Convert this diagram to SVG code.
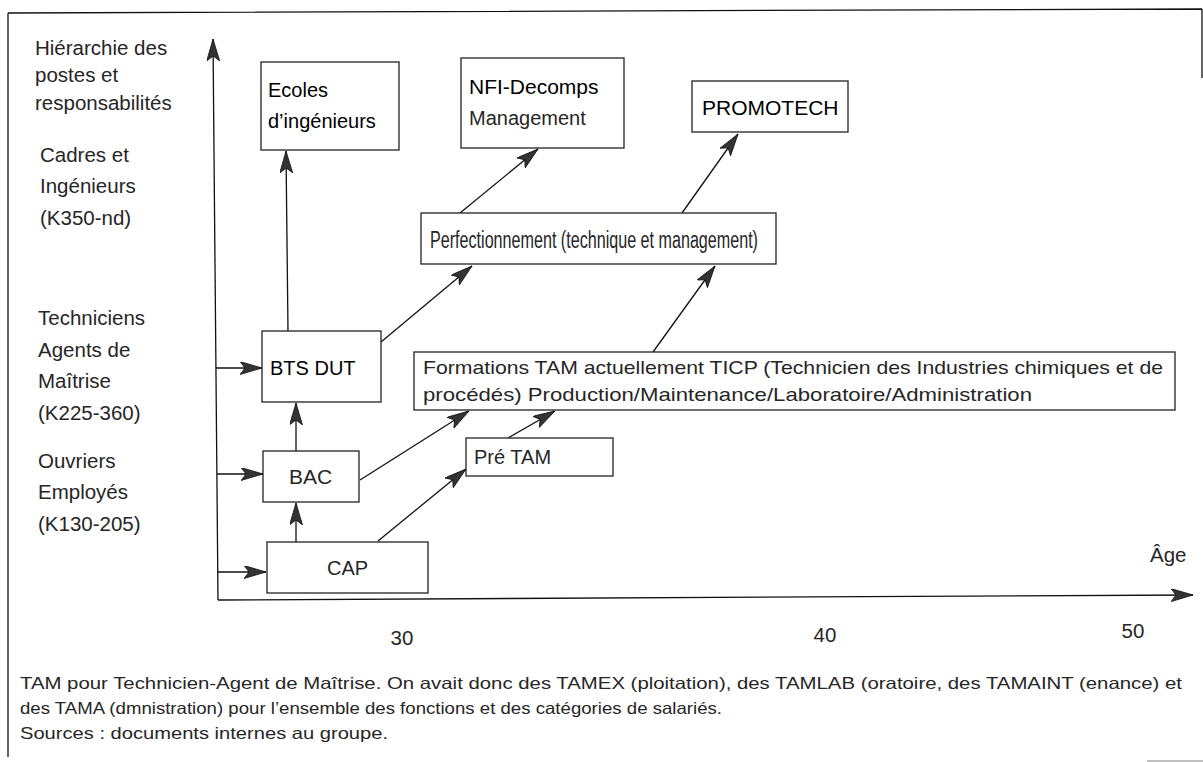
<svg xmlns="http://www.w3.org/2000/svg" width="1203" height="762" viewBox="0 0 1203 762">
<style>
text{font-family:"Liberation Sans",Arial,sans-serif;fill:#262626}
.lab{font-size:20.5px}
.bx{fill:#fff;stroke:#222;stroke-width:1.3}
.ln{stroke:#111;stroke-width:1.3;fill:none}
.ar{stroke:#111;stroke-width:1.3;fill:none;marker-end:url(#ah)}
.dk{fill:#000}
.fn{font-size:16.5px}
</style>
<defs>
<marker id="ah" markerUnits="userSpaceOnUse" markerWidth="24" markerHeight="14" refX="22" refY="6.5" orient="auto">
<path d="M0,0 L22,6.5 L0,13 L5,6.5 z" fill="#333" stroke="#111" stroke-width="0.8"/>
</marker>
</defs>
<g id="frame">
<path class="ln" d="M8,13 L1202,9 M8,13 L8,757 M1202,9 L1202,78"/>
<path d="M1147,761 L1203,761" stroke="#aaa" stroke-width="1.5"/>
</g>
<g id="axes">
<line class="ar" x1="218" y1="600" x2="213" y2="39"/>
<line class="ar" x1="218" y1="600" x2="1193" y2="595"/>
<text class="lab" x="1150" y="562">Âge</text>
<text class="lab" x="402" y="645" text-anchor="middle">30</text>
<text class="lab" x="825" y="642" text-anchor="middle">40</text>
<text class="lab" x="1133" y="638" text-anchor="middle">50</text>
</g>
<g id="labels-y">
<text class="lab" x="35" y="55">Hiérarchie des</text>
<text class="lab" x="35" y="82">postes et</text>
<text class="lab" x="35" y="110">responsabilités</text>
<text class="lab" x="40" y="162">Cadres et</text>
<text class="lab" x="40" y="193">Ingénieurs</text>
<text class="lab" x="40" y="225">(K350-nd)</text>
<text class="lab" x="38" y="325">Techniciens</text>
<text class="lab" x="38" y="357">Agents de</text>
<text class="lab" x="38" y="388">Maîtrise</text>
<text class="lab" x="38" y="420">(K225-360)</text>
<text class="lab" x="38" y="468">Ouvriers</text>
<text class="lab" x="38" y="499">Employés</text>
<text class="lab" x="38" y="531">(K130-205)</text>
</g>
<g id="connectors">
<line class="ar" x1="216" y1="368" x2="262" y2="368"/>
<line class="ar" x1="217" y1="474" x2="263" y2="474"/>
<line class="ar" x1="218" y1="572" x2="266" y2="572"/>
<line class="ar" x1="288" y1="331" x2="286" y2="151"/>
<line class="ar" x1="296" y1="451" x2="296" y2="403"/>
<line class="ar" x1="296" y1="542" x2="296" y2="503"/>
<line class="ar" x1="381" y1="342" x2="472" y2="266"/>
<line class="ar" x1="460" y1="213" x2="538" y2="149"/>
<line class="ar" x1="682" y1="213" x2="738" y2="134"/>
<line class="ar" x1="360" y1="480" x2="469" y2="411"/>
<line class="ar" x1="378" y1="541" x2="466" y2="469"/>
<line class="ar" x1="508" y1="438" x2="555" y2="411"/>
<line class="ar" x1="653" y1="352" x2="715" y2="266"/>
</g>
<g id="ecoles">
<rect class="bx" x="261" y="62" width="138" height="88"/>
<text class="dk" x="268" y="97" font-size="20">Ecoles</text>
<text class="dk" x="268" y="128" font-size="20">d’ingénieurs</text>
</g>
<g id="nfi">
<rect class="bx" x="461" y="58" width="163" height="90"/>
<text class="dk" x="469" y="94" font-size="21">NFI-Decomps</text>
<text x="469" y="125" font-size="20">Management</text>
</g>
<g id="promotech">
<rect class="bx" x="692" y="81" width="156" height="51"/>
<text class="dk" x="702" y="115" font-size="21">PROMOTECH</text>
</g>
<g id="perfectionnement">
<rect class="bx" x="421" y="213" width="355" height="51"/>
<text x="430" y="248" font-size="23" textLength="328" lengthAdjust="spacingAndGlyphs">Perfectionnement (technique et management)</text>
</g>
<g id="btsdut">
<rect class="bx" x="262" y="331" width="119" height="71"/>
<text class="dk" x="270" y="375" font-size="20">BTS DUT</text>
</g>
<g id="formations">
<rect class="bx" x="414" y="352" width="761" height="58"/>
<text x="423" y="374" font-size="19" textLength="740" lengthAdjust="spacingAndGlyphs">Formations TAM actuellement TICP (Technicien des Industries chimiques et de</text>
<text x="423" y="401" font-size="19" textLength="609" lengthAdjust="spacingAndGlyphs">procédés) Production/Maintenance/Laboratoire/Administration</text>
</g>
<g id="bac">
<rect class="bx" x="263" y="451" width="96" height="51"/>
<text x="289" y="484" font-size="21">BAC</text>
</g>
<g id="pretam">
<rect class="bx" x="466" y="438" width="147" height="38"/>
<text x="474" y="464" font-size="20">Pré TAM</text>
</g>
<g id="cap">
<rect class="bx" x="267" y="542" width="161" height="51"/>
<text x="327" y="575" font-size="20">CAP</text>
</g>
<g id="footnote">
<text class="fn" x="20" y="689" textLength="1162" lengthAdjust="spacingAndGlyphs">TAM pour Technicien-Agent de Maîtrise. On avait donc des TAMEX (ploitation), des TAMLAB (oratoire, des TAMAINT (enance) et</text>
<text class="fn" x="20" y="714" textLength="702" lengthAdjust="spacingAndGlyphs">des TAMA (dmnistration) pour l’ensemble des fonctions et des catégories de salariés.</text>
<text class="fn" x="20" y="739" textLength="368" lengthAdjust="spacingAndGlyphs">Sources : documents internes au groupe.</text>
</g>
</svg>
